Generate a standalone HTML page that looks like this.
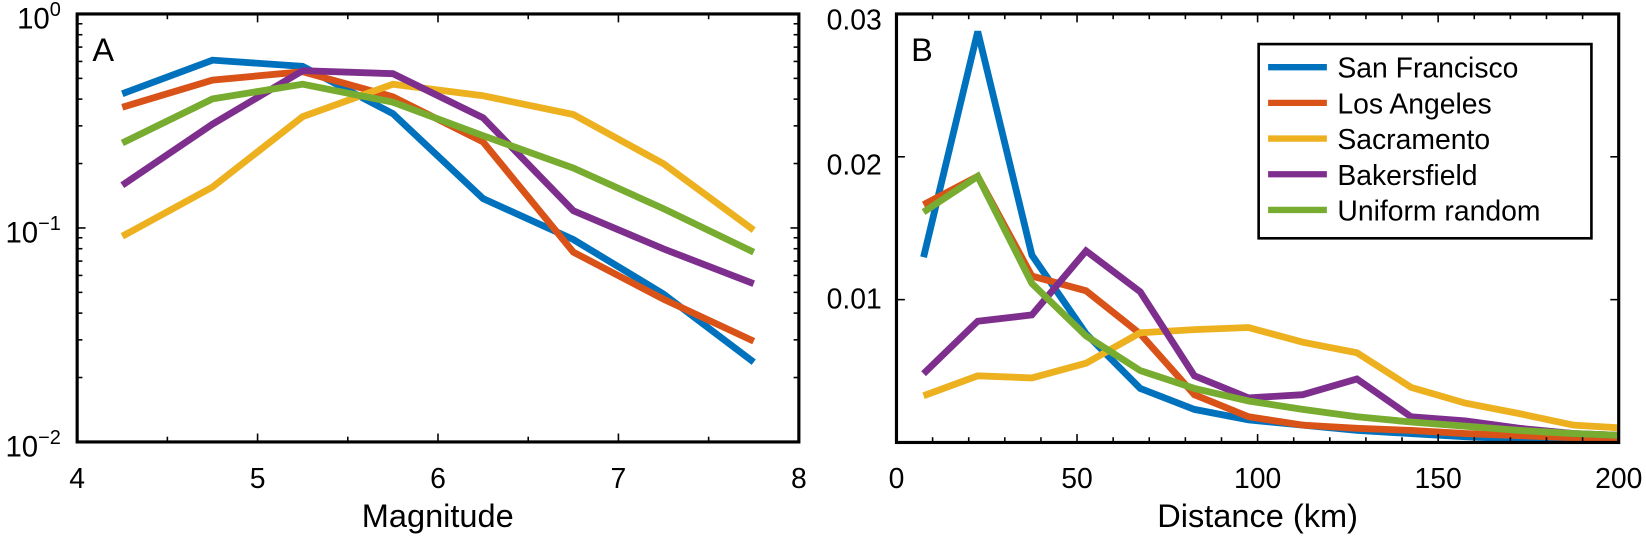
<!DOCTYPE html>
<html><head><meta charset="utf-8"><style>
html,body{margin:0;padding:0;background:#fff;}
svg{display:block;}
text{font-family:"Liberation Sans",sans-serif;fill:#000;}
</style></head><body>
<svg id="s" width="1646" height="538" viewBox="0 0 1568 512.5" xmlns="http://www.w3.org/2000/svg">
<g id="g"></g>
</svg>
<script>
var g=document.getElementById('g'),h='';
function L(x1,y1,x2,y2,w){h+='<line x1="'+x1+'" y1="'+y1+'" x2="'+x2+'" y2="'+y2+'" stroke="#000" stroke-width="'+(w||1.5)+'"/>';}
function T(x,y,s,fs,a){h+='<text x="'+x+'" y="'+y+'" font-size="'+fs+'" text-anchor="'+(a||'start')+'">'+s+'</text>';}
var cols=['#0072bd','#d95319','#edb120','#7e2f8e','#77ac30'];
var lx0=73.5,lx1=761,ly0=13.3,ly1=421;
var lxs=function(v){return lx0+(v-4)/4*(lx1-lx0);};
var lys=function(lg){return ly0+(-lg)/2*(ly1-ly0);};
var left=[[-0.373,-0.216,-0.245,-0.466,-0.863,-1.054,-1.309,-1.627],
[-0.436,-0.309,-0.27,-0.387,-0.598,-1.113,-1.333,-1.529],
[-1.039,-0.809,-0.48,-0.328,-0.382,-0.47,-0.70,-1.01],
[-0.8,-0.515,-0.265,-0.279,-0.485,-0.92,-1.098,-1.26],
[-0.603,-0.397,-0.328,-0.412,-0.569,-0.72,-0.91,-1.113]];
for(var s=0;s<5;s++){var p='';for(var i=0;i<8;i++){p+=(i?' ':'')+lxs(4.25+0.5*i).toFixed(1)+','+lys(left[s][i]).toFixed(1);}
h+='<polyline points="'+p+'" fill="none" stroke="'+cols[s]+'" stroke-width="6.5" stroke-linejoin="miter"/>';}
for(var v=4;v<=8;v+=0.5){var x=lxs(v),len=(v%1==0)?8:5;L(x,ly1,x,ly1-len);L(x,ly0,x,ly0+len);if(v%1==0)T(x,465,v,27,'middle');}
for(var d=0;d>=-2;d--){for(var k=1;k<=9;k++){var lg=d-1+Math.log10(k);if(k==1)lg=d;if(lg<-2)continue;var y=lys(lg),len=(k==1)?8:5;L(lx0,y,lx0+len,y);L(lx1,y,lx1-len,y);if(k!=1&&d==-2)break;}}
[[0,18],[-1,222],[-2,426]].forEach(function(a){h+='<text x="58" y="'+(a[1]+9)+'" font-size="28" text-anchor="end">10<tspan dy="-12" font-size="19">'+(a[0]==0?'0':'−'+(-a[0]))+'</tspan></text>';});
h+='<rect x="'+lx0+'" y="'+ly0+'" width="'+(lx1-lx0)+'" height="'+(ly1-ly0)+'" fill="none" stroke="#000" stroke-width="3"/>';
T(88,58,'A',31);T(417,502,'Magnitude',31,'middle');
var rx0=854,rx1=1542,ry0=13.3,ry1=421.5;
var rxs=function(v){return rx0+v/200*(rx1-rx0);};
var ryv=function(v){return ry1-v/0.03*(ry1-ry0);};
var xs=[7.5,22.5,37.5,52.5,67.5,82.5,97.5,112.5,127.5,142.5,157.5,172.5,187.5,202.5];
var right=[[245,30,243,318,370,390,400,405,410,413,416,418,419,420],
[195,168,263,277,318,376,397,405,408,410,413,415,417,418],
[377,358,360,346,317,314,312,326,336,369,384,394,405,408],
[356,306,300,239,278,358,379,376,361,397,401,408,413,415],
[202,168,270,320,353,370,382,390,397,402,406,410,413,415]];
h+='<clipPath id="c"><rect x="'+rx0+'" y="'+ry0+'" width="'+(rx1-rx0)+'" height="'+(ry1-ry0)+'"/></clipPath><g clip-path="url(#c)">';
for(var s=0;s<5;s++){var p='';for(var i=0;i<14;i++){p+=(i?' ':'')+rxs(xs[i]).toFixed(1)+','+right[s][i];}
h+='<polyline points="'+p+'" fill="none" stroke="'+cols[s]+'" stroke-width="6.5" stroke-linejoin="miter"/>';}
h+='</g>';
for(var v=0;v<=200;v+=10){var x=rxs(v),len=(v%50==0)?8:5;L(x,ry1,x,ry1-len);L(x,ry0,x,ry0+len);if(v%50==0)T(x,465,v,27,'middle');}
[0.01,0.02].forEach(function(v){var y=ryv(v);L(rx0,y,rx0+8,y);L(rx1,y,rx1-8,y);});
T(840,294,'0.01',27,'end');T(840,166,'0.02',27,'end');T(840,28,'0.03',27,'end');
h+='<rect x="'+rx0+'" y="'+ry0+'" width="'+(rx1-rx0)+'" height="'+(ry1-ry0)+'" fill="none" stroke="#000" stroke-width="3"/>';
T(868,58,'B',31);T(1198,502,'Distance (km)',31,'middle');
h+='<rect x="1199" y="42" width="317" height="185" fill="#fff" stroke="#000" stroke-width="2.5"/>';
var names=['San Francisco','Los Angeles','Sacramento','Bakersfield','Uniform random'],ly=[64,98,132,166,200];
for(var s=0;s<5;s++){h+='<line x1="1208" y1="'+ly[s]+'" x2="1264" y2="'+ly[s]+'" stroke="'+cols[s]+'" stroke-width="6"/>';T(1274,ly[s]+10,names[s],27);}
g.innerHTML=h;
</script>
</body></html>
